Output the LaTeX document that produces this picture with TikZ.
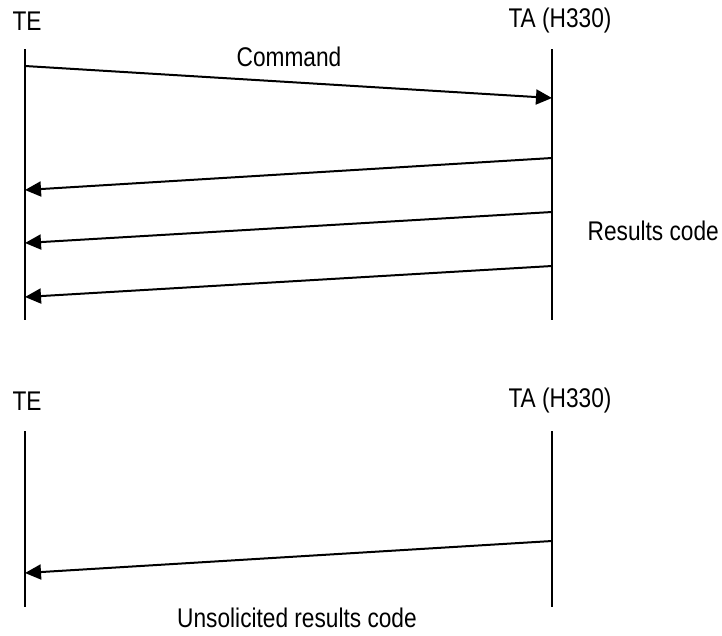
\documentclass[tikz,border=0pt]{standalone}
\usepackage{fontspec}
\setmainfont{Liberation Sans}[FakeStretch=0.84]
\usetikzlibrary{arrows.meta}
\begin{document}
\begin{tikzpicture}[x=1pt,y=-1pt,
  lbl/.style={inner sep=0pt,font=\fontsize{27}{30}\selectfont},
  life/.style={line width=2pt},
  msg/.style={line width=2pt,-{Triangle[length=16pt,width=15pt]}}]
\useasboundingbox (0,0) rectangle (722,635);
% top diagram
\node[lbl] (te1) at (27,21) {TE};
\node[lbl] (ta1) at (560,21) {TA (H330)};
\coordinate (l1t) at (25,49);
\coordinate (l1b) at (25,320);
\coordinate (r1t) at (552,49);
\coordinate (r1b) at (552,320);
\draw[life] (l1t) -- (l1b);
\draw[life] (r1t) -- (r1b);
\coordinate (c1) at (25,66);
\coordinate (c2) at (552,98);
\draw[msg] (c1) -- (c2);
\node[lbl] (cmd) at (289,57) {Command};
\coordinate (a1) at (552,158);
\coordinate (b1) at (25,190);
\coordinate (a2) at (552,212);
\coordinate (b2) at (25,243);
\coordinate (a3) at (552,266);
\coordinate (b3) at (25,297);
\draw[msg] (a1) -- (b1);
\draw[msg] (a2) -- (b2);
\draw[msg] (a3) -- (b3);
\node[lbl,anchor=east] (rc) at (719,231) {Results code};
% bottom diagram
\node[lbl] (te2) at (27,401) {TE};
\node[lbl] (ta2) at (560,401) {TA (H330)};
\coordinate (l2t) at (25,431);
\coordinate (l2b) at (25,607);
\coordinate (r2t) at (552,431);
\coordinate (r2b) at (552,607);
\draw[life] (l2t) -- (l2b);
\draw[life] (r2t) -- (r2b);
\coordinate (u1) at (552,541);
\coordinate (u2) at (25,573);
\draw[msg] (u1) -- (u2);
\node[lbl] (urc) at (297,618) {Unsolicited results code};
\end{tikzpicture}
\end{document}
